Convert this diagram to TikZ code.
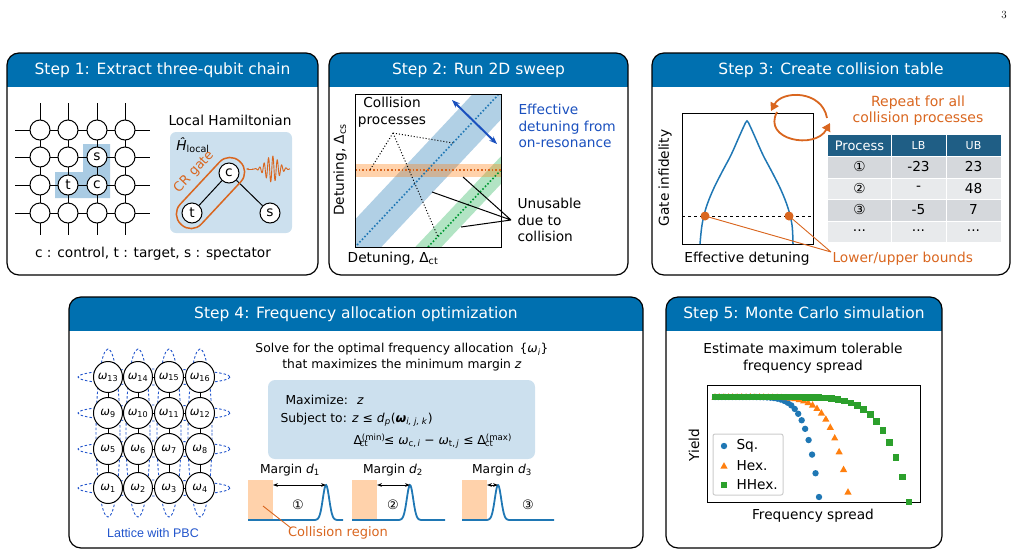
\documentclass[tikz,border=0pt]{standalone}
\usepackage{fontspec}
\setsansfont{DejaVu Sans}
\newfontfamily\arialf{Liberation Sans}
\usetikzlibrary{arrows.meta,shapes.geometric}
\definecolor{hdr}{RGB}{0,112,176}
\definecolor{lbl}{RGB}{204,224,238}
\definecolor{shd}{RGB}{169,203,227}
\definecolor{orng}{RGB}{217,102,31}
\definecolor{mblue}{RGB}{31,119,180}
\definecolor{morange}{RGB}{255,127,14}
\definecolor{mgreen}{RGB}{44,160,44}
\definecolor{dblue}{RGB}{26,80,190}
\definecolor{tblh}{RGB}{31,94,133}
\definecolor{row1}{RGB}{213,216,220}
\definecolor{row2}{RGB}{232,234,236}
\definecolor{pbc}{RGB}{34,85,204}
\newcommand\mypanel[5]{%
  \begin{scope}
    \clip[rounded corners=12pt] (#1,#2) rectangle (#3,#4);
    \fill[hdr] (#1,#2) rectangle (#3,#2+34);
  \end{scope}
  \draw[line width=1.2pt,rounded corners=12pt] (#1,#2) rectangle (#3,#4);
  \node[ttl] at ({(#1+#3)/2},#2+17) {#5};
}
\newcommand\om[1]{\textit{ω}\textsubscript{#1}}
\newcommand\fs[1]{\fontsize{#1}{#1}\selectfont}
\begin{document}
\begin{tikzpicture}[x=1pt,y=-1pt,font=\sffamily\fontsize{13.7}{16.5}\selectfont,
  ttl/.style={text=white,font=\sffamily\fontsize{15.5}{17}\selectfont},
  qb/.style={circle,draw,fill=white,line width=1pt,minimum size=20pt,inner sep=0pt},
  lq/.style={ellipse,draw,fill=white,line width=1pt,minimum width=29pt,minimum height=31pt,inner sep=0pt,font=\sffamily\fontsize{11.5}{12}\selectfont},
  dotl/.style={dotted,line width=1.6pt},
  ar/.style={-{Triangle[length=8pt,width=9pt]},orng,line width=1.8pt}]
\useasboundingbox (0,0) rectangle (1022,555);
\node[font=\rmfamily\fontsize{11}{12}\selectfont] (pg) at (1004,15) {3};

% ---------------- Panel 1
\mypanel{7}{53}{318}{275}{Step 1: Extract three-qubit chain}
\fill[shd] (55,172) -- (83,172) -- (83,144) -- (110,144) -- (110,198) -- (55,198) -- cycle;
\foreach \x in {40,68,97,125} \draw[line width=1pt] (\x,103) -- (\x,235);
\foreach \y in {130,157,185,213} \draw[line width=1pt] (15,\y) -- (150,\y);
\foreach \x [count=\i] in {40,68,97,125}
  \foreach \y [count=\j] in {130,157,185,213}
    \node[qb] (g\i\j) at (\x,\y) {};
\node at (g32) {s}; \node at (g23) {t}; \node at (g33) {c};
\node (lh) at (230,120) {Local Hamiltonian};
\fill[lbl,rounded corners=6pt] (170,132) rectangle (292,233);
\node (hl) at (193,145) {\textit{Ĥ}\textsubscript{local}};
\node[qb] (qc) at (229,173) {c};
\node[qb] (qt) at (192,213) {t};
\node[qb] (qs) at (270,213) {s};
\draw[line width=1pt] (qc) -- (qt) (qc) -- (qs);
\node[draw=orng,line width=1.5pt,rounded corners=14pt,minimum width=86pt,minimum height=29pt,rotate=47] (pill) at (210.5,193) {};
\node[orng,rotate=47,font=\sffamily\fs{13}] (crg) at (194,172) {CR gate};
\draw[orng,line width=0.9pt,domain=252:290,samples=300] plot (\x,{169+13*exp(-((\x-272)/9)^2)*sin(360*(\x-252)/4.4)});
\draw[orng,line width=0.9pt,-{Stealth[length=3pt]}] (253,169) -- (246,169);
\node (leg1) at (153,254) {c : control, t : target, s : spectator};

% ---------------- Panel 2
\mypanel{329}{53}{628}{275}{Step 2: Run 2D sweep}
\begin{scope}
  \clip (355,94) rectangle (501,247);
  \draw[mblue,opacity=0.35,line width=38pt] (329,275) -- (526,65);
  \draw[mgreen!80!cyan,opacity=0.35,line width=19pt] (400,277) -- (520,150);
  \fill[morange,opacity=0.35] (355,164) rectangle (501,177);
  \draw[dotl,mblue] (357,245) -- (498,95);
  \draw[dotl,green!50!black!80!cyan] (428,247) -- (501,170);
  \draw[dotl,orng] (355,170) -- (501,170);
\end{scope}
\draw[line width=1pt] (355,94) rectangle (501,247);
\draw[dblue,line width=2pt,{Stealth[length=8pt]}-{Stealth[length=8pt]}] (452,100) -- (497,144);
\node[align=center] (cp) at (392,112) {Collision\\processes};
\coordinate (apx) at (393,133);
\draw[dotted,line width=1pt] (apx) -- (370,170) (apx) -- (453,143) (apx) -- (438,237);
\node[dblue,align=left,anchor=west] (eff) at (515,126) {Effective\\detuning from\\on-resonance};
\node[align=left,anchor=west] (unu) at (514,220) {Unusable\\due to\\collision};
\coordinate (uj) at (511,220);
\draw[line width=1pt] (uj) -- (463,177) (uj) -- (432,192) (uj) -- (461,227);
\node (xl2) at (393,259) {Detuning, Δ\textsubscript{ct}};
\node[rotate=90] (yl2) at (340,170) {Detuning, Δ\textsubscript{cs}};

% ---------------- Panel 3
\mypanel{652}{53}{1010}{275}{Step 3: Create collision table}
\draw[line width=1pt] (682,113) rectangle (813,244);
\draw[mblue,line width=1.5pt] plot[smooth,tension=0.6] coordinates {(700,244) (702,225) (706,208) (713,190) (722,172) (731,155) (739,137) (744,126) (747,121) (750,126) (755,137) (763,155) (772,172) (781,190) (788,208) (792,225) (793,244)};
\draw[dashed,line width=1pt] (682,216) -- (813,216);
\fill[orng] (705,216) circle (4.5) (789,216) circle (4.5);
\coordinate (lb) at (831,252);
\draw[orng,line width=0.9pt] (705,216) -- (lb) (789,216) -- (lb);
\node[orng,anchor=west] (lub) at (829,259) {Lower/upper bounds};
\node[rotate=90] (yl3) at (665,178) {Gate infidelity};
\node (xl3) at (747,259) {Effective detuning};
\draw[ar] (827,118) .. controls (822,90) and (782,90) .. (771,111);
\draw[ar] (777,112) .. controls (762,140) and (815,150) .. (830,123);
\node[orng,align=center,font=\sffamily\fs{14}] (rep) at (918,111) {Repeat for all\\[2pt]collision processes};
\fill[tblh] (828,135) rectangle (1001,156);
\fill[row1] (828,156) rectangle (1001,178);
\fill[row2] (828,178) rectangle (1001,199);
\fill[row1] (828,199) rectangle (1001,221);
\fill[row2] (828,221) rectangle (1001,242);
\draw[white,line width=1pt] (891,135) -- (891,242) (946,135) -- (946,242)
  (828,156) -- (1001,156) (828,178) -- (1001,178) (828,199) -- (1001,199) (828,221) -- (1001,221);
\node[white,font=\sffamily\fs{13}] (th1) at (859.5,145.5) {Process};
\node[white,font=\sffamily\fs{11}] (th2) at (918.5,145.5) {LB};
\node[white,font=\sffamily\fs{11}] (th3) at (973.5,145.5) {UB};
\node (a1) at (859.5,167) {①}; \node (b1) at (918.5,167) {-23}; \node (c1) at (973.5,167) {23};
\node (a2) at (859.5,188.5) {②}; \node (b2) at (918.5,188.5) {-}; \node (c2) at (973.5,188.5) {48};
\node (a3) at (859.5,210) {③}; \node (b3) at (918.5,210) {-5}; \node (c3) at (973.5,210) {7};
\node (a4) at (859.5,231) {...}; \node (b4) at (918.5,231) {...}; \node (c4) at (973.5,231) {...};

% ---------------- Panel 4
\mypanel{69}{297}{643}{548}{Step 4: Frequency allocation optimization}
\foreach \x in {108,138,169,200}
  \draw[pbc,dashed,dash pattern=on 2.5pt off 2pt,line width=0.9pt] (\x,433) ellipse (12 and 84);
\foreach \y in {377,413,449,488}
  \draw[pbc,dashed,dash pattern=on 2.5pt off 2pt,line width=0.9pt] (154,\y) ellipse (76 and 8);
\foreach \x [count=\i] in {108,138,169,200}
  \foreach \y [count=\j] in {488,449,413,377}
    \node[lq] (w\i\j) at (\x,\y) {\om{\the\numexpr \i+4*\j-4\relax}};
\foreach \i in {1,...,4} \foreach \j/\k in {1/2,2/3,3/4} {
  \draw[line width=1pt] (w\i\j) -- (w\i\k);
  \draw[line width=1pt] (w\j\i) -- (w\k\i); }
\node[pbc,font=\arialf\fs{12.5}] (pbcl) at (153,533) {Lattice with PBC};
\begin{scope}[font=\sffamily\fs{12.3}]
\node[align=center] (solve) at (402,357) {Solve for the optimal frequency allocation \,\{\textit{ω}\textsubscript{\textit{i}}\}\\[3pt]that maximizes the minimum margin \textit{z}};
\fill[lbl,rounded corners=7pt] (268,380) rectangle (535,459);
\node[anchor=west] (mx) at (282,400) {Maximize: \ \textit{z}};
\node[anchor=west] (st) at (277,420) {Subject to: \textit{z} ≤ \textit{d}\textsubscript{\textit{p}}(\textbf{\textit{ω}}\textsubscript{\textit{i, j, k}})};
\node[anchor=west] (cst) at (350,441) {Δ\textsuperscript{(min)}\kern-2.1em\textsubscript{ct}\kern1.3em ≤ \textit{ω}\textsubscript{c,\,\textit{i}} − \textit{ω}\textsubscript{t,\,\textit{j}} ≤ Δ\textsuperscript{(max)}\kern-2.2em\textsubscript{ct}};
\foreach \rx/\pk/\en/\ml/\nx/\nn/\lab [count=\q] in {248/326/343/290/298/①/1, 352/410/445/393/393/②/2, 462/498/554/502/528/③/3} {
  \fill[morange!35] (\rx,480) rectangle (\rx+25,520);
  \draw[mblue,line width=1.8pt,domain=\rx:\en,samples=120] plot (\x,{520-35*exp(-((\x-\pk)/4.5)^2)});
  \draw[line width=0.9pt,{Stealth[length=5pt]}-{Stealth[length=5pt]}] (\rx+25,485) -- (\pk,485);
  \node (mg\q) at (\ml,470) {Margin \textit{d}\textsubscript{\lab}};
  \node[font=\sffamily\fs{13}] (cn\q) at (\nx,505) {\nn};
}
\node[orng,font=\sffamily\fs{13}] (colr) at (338,533) {Collision region};
\end{scope}
\draw[orng,line width=0.9pt] (263,506) -- (291,528);

% ---------------- Panel 5
\mypanel{666}{297}{942}{548}{Step 5: Monte Carlo simulation}
\node[align=center] (est) at (803,358) {Estimate maximum tolerable\\frequency spread};
\draw[line width=1pt] (707,385) rectangle (920,502);
\foreach \i in {0,...,30} {
  \pgfmathsetmacro\px{715+\i*104/30}\pgfmathsetmacro\py{397+100*(\i/30)^8}
  \fill[mblue] (\px,\py) circle (3.2); }
\foreach \i in {0,...,30} {
  \pgfmathsetmacro\px{715+\i*133/30}\pgfmathsetmacro\py{397+95*(\i/30)^8}
  \fill[morange] (\px,\py-3.8) -- (\px+3.6,\py+2.6) -- (\px-3.6,\py+2.6) -- cycle; }
\foreach \i in {0,...,30} {
  \pgfmathsetmacro\px{715+\i*194/30}\pgfmathsetmacro\py{397+105*(\i/30)^8}
  \fill[mgreen] (\px-3.3,\py-3.3) rectangle (\px+3.3,\py+3.3); }
\draw[black!20,fill=white,line width=1pt,rounded corners=2pt] (713,434) rectangle (783,495);
\fill[mblue] (724,446) circle (3.2);
\fill[morange] (724,462.2) -- (727.6,468.6) -- (720.4,468.6) -- cycle;
\fill[mgreen] (720.7,481.7) rectangle (727.3,488.3);
\node[anchor=west] (l1) at (733,446) {Sq.};
\node[anchor=west] (l2) at (733,466) {Hex.};
\node[anchor=west] (l3) at (733,485) {HHex.};
\node[rotate=90] (yl5) at (694,445) {Yield};
\node (xl5) at (813,516) {Frequency spread};
\end{tikzpicture}
\end{document}
